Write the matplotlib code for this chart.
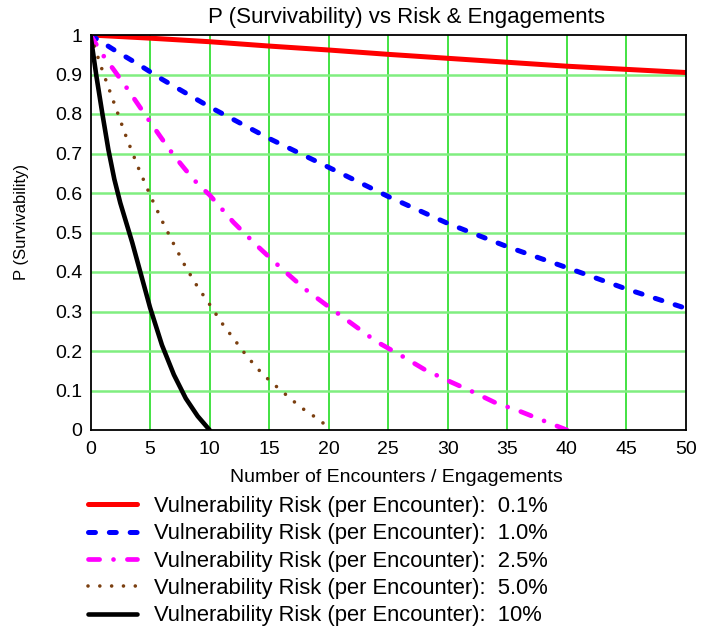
import matplotlib
matplotlib.use("Agg")
import matplotlib.pyplot as plt

plt.rcParams['font.family'] = ['Liberation Sans', 'DejaVu Sans']
plt.rcParams['lines.scale_dashes'] = False

# ---- data ----
x_01 = [0, 5, 10, 15, 20, 25, 30, 35, 40, 45, 50]
y_01 = [1.0, 0.992, 0.983, 0.972, 0.962, 0.951, 0.941, 0.931, 0.921, 0.913, 0.905]

x_10 = [0, 2, 4, 6, 8, 10, 15, 20, 25, 30, 35, 40, 45, 50]
y_10 = [1.0, 0.962, 0.926, 0.888, 0.853, 0.818, 0.738, 0.665, 0.591, 0.523, 0.464, 0.411, 0.357, 0.308]

x_25 = [0, 1, 2, 3, 4, 5, 6, 7, 8, 9, 10, 12, 14, 16, 18, 20, 22, 24, 26, 28, 30, 32, 34, 36, 38, 40]
y_25 = [1.0, 0.951, 0.91, 0.868, 0.824, 0.78, 0.737, 0.695, 0.658, 0.623, 0.595, 0.526, 0.466, 0.41,
        0.357, 0.312, 0.268, 0.224, 0.19, 0.154, 0.125, 0.098, 0.069, 0.048, 0.024, 0.0]

x_50 = [0, 1, 2, 3, 4, 5, 6, 7, 8, 9, 10, 11, 12, 13, 14, 15, 16, 17, 18, 19, 19.6]
y_50 = [1.0, 0.91, 0.826, 0.742, 0.665, 0.595, 0.53, 0.47, 0.412, 0.362, 0.318, 0.272, 0.232,
        0.192, 0.156, 0.126, 0.10, 0.074, 0.05, 0.03, 0.016]

x_100 = [0, 0.5, 1, 1.5, 2, 2.5, 3, 3.5, 4, 5, 6, 7, 8, 9, 10]
y_100 = [1.0, 0.895, 0.80, 0.71, 0.635, 0.575, 0.525, 0.475, 0.42, 0.31, 0.215, 0.14, 0.08, 0.035, 0.0]

labels = [
    "Vulnerability Risk (per Encounter):  0.1%",
    "Vulnerability Risk (per Encounter):  1.0%",
    "Vulnerability Risk (per Encounter):  2.5%",
    "Vulnerability Risk (per Encounter):  5.0%",
    "Vulnerability Risk (per Encounter):  10%",
]
x_ticks = [0, 5, 10, 15, 20, 25, 30, 35, 40, 45, 50]
y_ticks = [0, 0.1, 0.2, 0.3, 0.4, 0.5, 0.6, 0.7, 0.8, 0.9, 1]
y_tick_labels = ["0", "0.1", "0.2", "0.3", "0.4", "0.5", "0.6", "0.7", "0.8", "0.9", "1"]

title = "P (Survivability) vs Risk & Engagements"
xlabel = "Number of Encounters / Engagements"
ylabel = "P (Survivability)"

# ---- figure ----
W, H = 703, 631
fig = plt.figure(figsize=(W / 100, H / 100), dpi=100)
ax = fig.add_axes([90.5 / W, 1 - 430 / H, 595.5 / W, 395 / H])

ax.set_xlim(0, 50)
ax.set_ylim(0, 1)
ax.set_xticks(x_ticks)
ax.set_yticks(y_ticks)
ax.set_yticklabels(y_tick_labels)
ax.tick_params(length=0, labelsize=14)
ax.tick_params(axis='x', pad=8)
ax.tick_params(axis='y', pad=6)

for x in x_ticks[1:-1]:
    ax.axvline(x, color='#22dd22', lw=1.2, zorder=1)
for y in y_ticks[1:-1]:
    ax.axhline(y, color='#80ee80', lw=1.8, zorder=1)

for s in ax.spines.values():
    s.set_color('black')
    s.set_linewidth(1.3)
    s.set_zorder(5)

l1, = ax.plot(x_01, y_01, color='#ff0000', lw=3.6, solid_capstyle='round', zorder=3)
l2, = ax.plot(x_10, y_10, color='#0000ff', lw=3.6, dashes=(5, 10), dash_capstyle='round', zorder=3)
l3, = ax.plot(x_25, y_25, color='#ff00ff', lw=3.4, dashes=(8, 10, 0.01, 10),
              dash_capstyle='round', zorder=3)
l4, = ax.plot(x_50, y_50, color='#7b3f10', lw=2.6, dashes=(0.01, 8.5), dash_capstyle='round', zorder=3)
l5, = ax.plot(x_100, y_100, color='black', lw=3.3, solid_capstyle='round', zorder=3)

fig.text(407 / W, 1 - 17 / H, title, ha='center', va='center', fontsize=16)
fig.text(396 / W, 1 - 478 / H, xlabel, ha='center', va='center', fontsize=14)
fig.text(22 / W, 1 - 222 / H, ylabel, ha='center', va='center', rotation=90, fontsize=12)

fig.legend([l1, l2, l3, l4, l5], labels, loc='upper left',
           bbox_to_anchor=(88 / W, 1 - 496 / H), frameon=False, fontsize=15.8,
           handlelength=2.25, handletextpad=0.77, labelspacing=0.29, borderpad=0,
           borderaxespad=0)

fig.savefig("out.png", dpi=100)
